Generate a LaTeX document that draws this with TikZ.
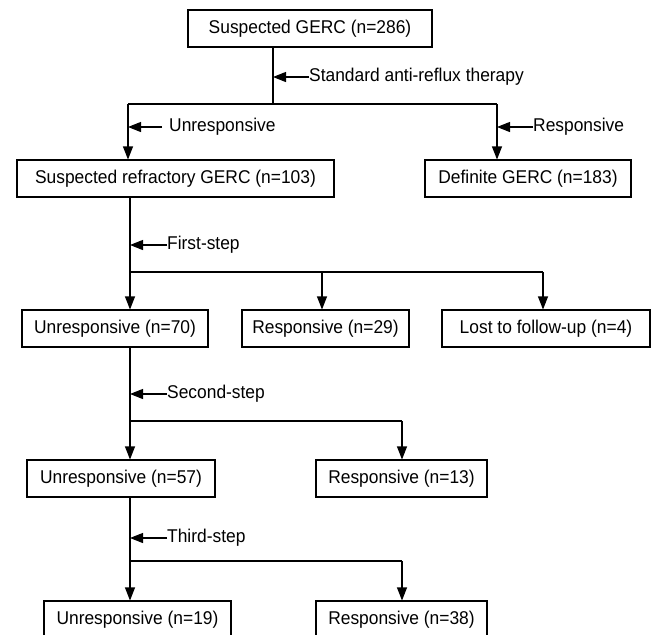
\documentclass[tikz,border=0pt]{standalone}
\usepackage{fontspec}
\setmainfont{Liberation Sans}[FakeStretch=0.94]
\usetikzlibrary{arrows.meta}
\begin{document}
\begin{tikzpicture}[x=1pt,y=-1pt,
  box/.style={draw,line width=1.1pt,rectangle,minimum height=37pt,inner sep=0pt,font=\fontsize{18.5}{22}\selectfont},
  lbl/.style={anchor=west,inner sep=0pt,font=\fontsize{18.5}{22}\selectfont},
  link/.style={line width=1.1pt},
  arr/.style={line width=1.1pt,-{Triangle[length=13pt,width=10pt]}}]
\useasboundingbox (0,0) rectangle (654,635);
% boxes
\node[box,minimum width=244pt] (top) at (310,28.5) {Suspected GERC (n=286)};
\node[box,minimum width=317pt] (r1a) at (175.5,178.5) {Suspected refractory GERC (n=103)};
\node[box,minimum width=206pt] (r1b) at (528,178.5) {Definite GERC (n=183)};
\node[box,minimum width=186pt] (r2a) at (115,328.5) {Unresponsive (n=70)};
\node[box,minimum width=167pt] (r2b) at (325.5,328.5) {Responsive (n=29)};
\node[box,minimum width=208pt] (r2c) at (546,328.5) {Lost to follow-up (n=4)};
\node[box,minimum width=188pt] (r3a) at (121,478.5) {Unresponsive (n=57)};
\node[box,minimum width=171pt] (r3b) at (401.5,478.5) {Responsive (n=13)};
\node[box,minimum width=187pt] (r4a) at (137.5,619.5) {Unresponsive (n=19)};
\node[box,minimum width=171pt] (r4b) at (401.5,619.5) {Responsive (n=38)};
% stage 0
\coordinate (j0) at (273,104);
\coordinate (j0l) at (128,104);
\coordinate (j0r) at (497,104);
\draw[link] (top.south -| j0) -- (j0);
\draw[link] (j0l) -- (j0r);
\draw[arr] (j0l) -- (j0l |- r1a.north);
\draw[arr] (j0r) -- (j0r |- r1b.north);
\node[lbl] (tstd) at (309,77) {Standard anti-reflux therapy};
\draw[arr] (tstd.west) -- (tstd.west -| j0);
\node[lbl] (tun) at (169,127) {Unresponsive};
\coordinate (cun) at (162,127);
\draw[arr] (cun) -- (cun -| j0l);
\node[lbl] (tre) at (533,127) {Responsive};
\draw[arr] (tre.west) -- (tre.west -| j0r);
% stage 1
\coordinate (j1) at (130,272);
\coordinate (j1b) at (322,272);
\coordinate (j1c) at (543,272);
\draw[link] (r1a.south -| j1) -- (j1);
\draw[link] (j1) -- (j1c);
\draw[arr] (j1) -- (j1 |- r2a.north);
\draw[arr] (j1b) -- (j1b |- r2b.north);
\draw[arr] (j1c) -- (j1c |- r2c.north);
\node[lbl] (tfs) at (167,245) {First-step};
\draw[arr] (tfs.west) -- (tfs.west -| j1);
% stage 2
\coordinate (j2) at (130,421);
\coordinate (j2b) at (402,421);
\draw[link] (r2a.south -| j2) -- (j2);
\draw[link] (j2) -- (j2b);
\draw[arr] (j2) -- (j2 |- r3a.north);
\draw[arr] (j2b) -- (j2b |- r3b.north);
\node[lbl] (tss) at (167,394) {Second-step};
\draw[arr] (tss.west) -- (tss.west -| j2);
% stage 3
\coordinate (j3) at (130,561);
\coordinate (j3b) at (402,561);
\draw[link] (r3a.south -| j3) -- (j3);
\draw[link] (j3) -- (j3b);
\draw[arr] (j3) -- (j3 |- r4a.north);
\draw[arr] (j3b) -- (j3b |- r4b.north);
\node[lbl] (tts) at (167,538) {Third-step};
\draw[arr] (tts.west) -- (tts.west -| j3);
\end{tikzpicture}
\end{document}
